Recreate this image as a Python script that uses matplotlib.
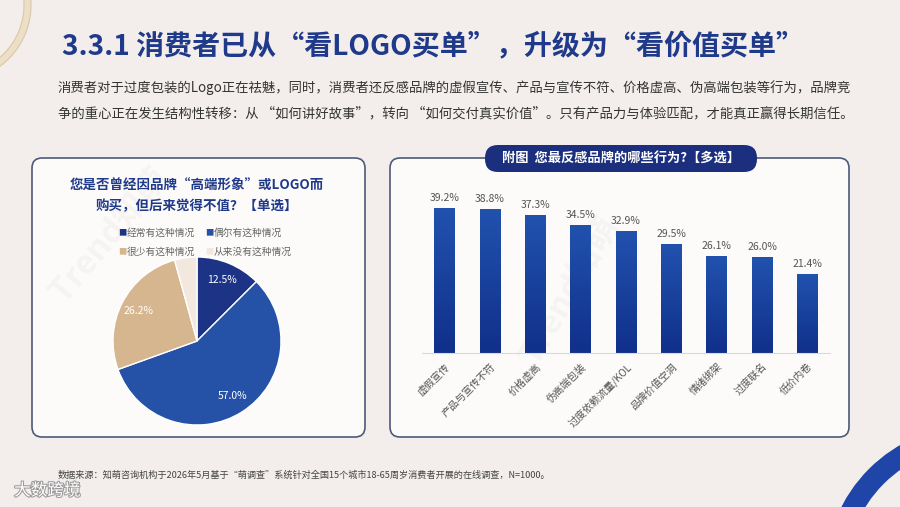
import matplotlib
matplotlib.use("Agg")
import matplotlib.pyplot as plt
import numpy as np
from matplotlib.patches import FancyBboxPatch, Wedge
from matplotlib.colors import LinearSegmentedColormap
import matplotlib.patheffects as pe

plt.rcParams['font.family'] = ['Noto Sans CJK SC', 'DejaVu Sans']

# --- Data ---
pie_labels = ["经常有这种情况", "偶尔有这种情况", "很少有这种情况", "从来没有这种情况"]
pie_values = [12.5, 57.0, 26.2, 4.3]
pie_colors = ["#1c3386", "#2551a6", "#d5b68f", "#f3e8dd"]

bar_labels = ["虚假宣传", "产品与宣传不符", "价格虚高", "伪高端包装", "过度依赖流量/KOL",
              "品牌价值空洞", "情绪绑架", "过度联名", "低价内卷"]
bar_values = [39.2, 38.8, 37.3, 34.5, 32.9, 29.5, 26.1, 26.0, 21.4]

title = "3.3.1 消费者已从“看LOGO买单”，升级为“看价值买单”"
para1 = "消费者对于过度包装的Logo正在祛魅，同时，消费者还反感品牌的虚假宣传、产品与宣传不符、价格虚高、伪高端包装等行为，品牌竞"
para2 = "争的重心正在发生结构性转移：从 “如何讲好故事”，转向 “如何交付真实价值”。只有产品力与体验匹配，才能真正赢得长期信任。"
pie_title = "您是否曾经因品牌“高端形象”或LOGO而\n购买，但后来觉得不值？【单选】"
bar_title = "附图  您最反感品牌的哪些行为?【多选】"
source = "数据来源：知萌咨询机构于2026年5月基于“萌调查”系统针对全国15个城市18-65周岁消费者开展的在线调查，N=1000。"

W, H = 900, 507
navy = "#1f3a8a"

fig = plt.figure(figsize=(9, 5.07), dpi=100)
fig.patch.set_facecolor("#f3eeeb")


def box(x0, y0, x1, y1):
    # pixel box (top-left origin) -> figure fraction rect
    return [x0 / W, 1 - y1 / H, (x1 - x0) / W, (y1 - y0) / H]


# --- Background layer in pixel coordinates ---
bg = fig.add_axes([0, 0, 1, 1], zorder=0)
bg.set_xlim(0, W)
bg.set_ylim(H, 0)
bg.axis("off")

bg.add_patch(Wedge((-45, 5), 76, 0, 360, width=7, facecolor="#ecdfc8", edgecolor="#dcc7a2", lw=0.8))
bg.add_patch(Wedge((975, 575), 150, 0, 360, width=21, facecolor="#1f45a8", edgecolor="none"))

for (x, y, r) in [(110, 235, 50), (570, 290, 60)]:
    bg.text(x, y, "Trend知萌", fontsize=24, rotation=r, color="#000000", alpha=0.03,
            ha="center", va="center", fontweight="bold")

bg.text(62, 47, title, fontsize=20.2, fontweight="heavy", color=navy, va="center", ha="left")
bg.text(58, 88, para1, fontsize=9.6, color="#333333", va="center", ha="left")
bg.text(58, 113, para2, fontsize=9.6, color="#333333", va="center", ha="left")

for (x0, y0, x1, y1) in [(32, 158, 365, 437), (390, 158, 849, 437)]:
    bg.add_patch(FancyBboxPatch((x0, y0), x1 - x0, y1 - y0,
                                boxstyle="round,pad=0,rounding_size=10",
                                facecolor="#fdfbfa", edgecolor="#4d5a7d", lw=1.2))

bg.add_patch(FancyBboxPatch((485, 145), 272, 27, boxstyle="round,pad=0,rounding_size=13",
                            facecolor="#1b2f7e", edgecolor="none"))
bg.text(621, 158.5, bar_title, fontsize=9.5, fontweight="bold", color="white", ha="center", va="center")

bg.text(197, 196, pie_title, fontsize=9.7, fontweight="bold", color=navy, ha="center",
        va="center", linespacing=1.6)

# legend
leg_pos = [(118, 233), (205, 233), (118, 252), (205, 252)]
for (x, y), lab, col in zip(leg_pos, pie_labels, pie_colors):
    bg.text(x, y, "■", fontsize=6, color=col, ha="left", va="center")
    bg.text(x + 9, y, lab, fontsize=7, color="#666666", ha="left", va="center")

bg.text(58, 475, source, fontsize=6.6, color="#444444", ha="left", va="center")
bg.text(14, 491, "大数跨境", fontsize=12, color="white", ha="left", va="center",
        path_effects=[pe.withStroke(linewidth=1.5, foreground="#9a9a9a")])

# --- Pie ---
ax1 = fig.add_axes(box(113, 257, 281, 425), zorder=2)
wedges, _, autotexts = ax1.pie(pie_values, colors=pie_colors, startangle=90, counterclock=False,
                               autopct=lambda p: f"{p:.1f}%" if p > 5 else "",
                               pctdistance=0.78,
                               wedgeprops=dict(edgecolor="white", linewidth=1))
for t in autotexts:
    t.set_color("white")
    t.set_fontsize(7.5)
ax1.set_xlim(-1, 1)
ax1.set_ylim(-1, 1)
ax1.set_aspect("equal")

# --- Bars ---
ax2 = fig.add_axes(box(422, 187, 830, 353), zorder=2)
ax2.patch.set_alpha(0)
cmap = LinearSegmentedColormap.from_list("bl", ["#10308a", "#2152ae"])
grad = np.linspace(0, 1, 100).reshape(-1, 1)
x = np.arange(len(bar_values))
bw = 0.46
for xi, v in zip(x, bar_values):
    ax2.imshow(grad, extent=[xi - bw / 2, xi + bw / 2, 0, v], origin="lower",
               cmap=cmap, aspect="auto", zorder=2)
    ax2.annotate(f"{v:.1f}%", (xi, v), xytext=(0, 4), textcoords="offset points",
                 ha="center", va="bottom", fontsize=7.5, color="#555555")
ax2.set_xlim(-0.5, len(bar_values) - 0.5)
ax2.set_ylim(0, 45)
ax2.set_xticks(x)
ax2.set_xticklabels(bar_labels, rotation=45, ha="right", va="top",
                    rotation_mode="anchor", fontsize=7.3, color="#555555")
ax2.tick_params(axis="x", length=0, pad=6)
ax2.set_yticks([])
for s in ["top", "right", "left"]:
    ax2.spines[s].set_visible(False)
ax2.spines["bottom"].set_color("#d9d9d9")

fig.savefig("out.png", dpi=100, facecolor=fig.get_facecolor())
